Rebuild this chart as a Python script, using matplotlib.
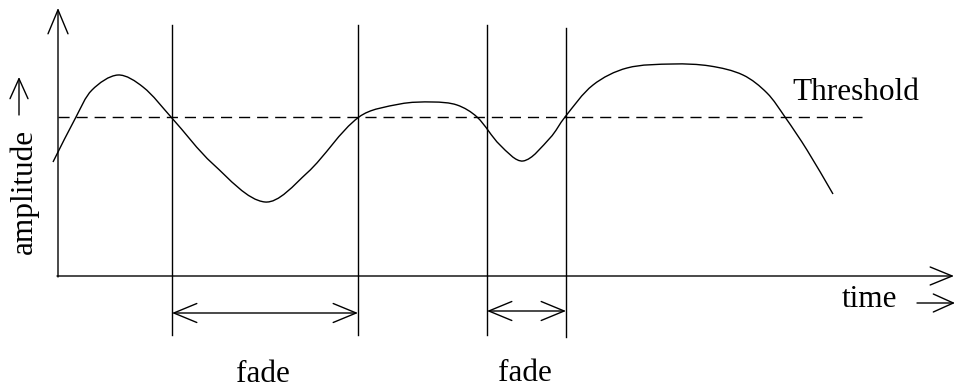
import numpy as np
import matplotlib
matplotlib.use("Agg")
import matplotlib.pyplot as plt
from matplotlib.path import Path
from matplotlib.patches import PathPatch, FancyArrowPatch

# ---- data (pixel units) ----
curve_x = [53, 76, 92, 118, 143, 171, 213, 265, 307, 359, 400, 433, 457, 477,
           500, 523, 550, 565, 593, 627, 673, 710, 743, 767, 785, 807, 833]
curve_y = [162, 117, 90, 75, 87, 117, 164, 202, 173, 117, 104, 102, 105, 117,
           145, 161, 138, 117, 85, 68, 64, 66, 75, 93, 117, 150, 194]
threshold_y = 117
threshold_span = [58, 862]
fade_bounds = [(172, 358), (487, 566)]
fade_arrow_y = [313, 311]
fade_line_tops = [25, 25, 25, 28]
fade_line_bottoms = [335, 335, 335, 337]
fade_label_x = [263, 525]
fade_label_y = [382, 381]

W, H = 956, 389
fig = plt.figure(figsize=(W / 100, H / 100), dpi=100)
ax = fig.add_axes([0, 0, 1, 1])
ax.set_xlim(0, W)
ax.set_ylim(H, 0)
ax.axis("off")

FONT = "Liberation Serif"
FS = 22.5
LW = 1.0
px = 0.72  # px -> pt

def arrow(p0, p1, style, hl, hw):
    a = FancyArrowPatch(p0, p1, arrowstyle=f"{style},head_length={hl*px},head_width={hw*px}",
                        mutation_scale=1, shrinkA=0, shrinkB=0, lw=LW, color="black")
    ax.add_patch(a)

# axes
arrow((58, 277), (58, 8), "->", 24, 10)
arrow((57, 276), (954, 276), "->", 22, 9)

# threshold
ax.plot(threshold_span, [threshold_y, threshold_y], color="black", lw=LW,
        dashes=(8, 5))

# vertical lines
xs = [b for pair in fade_bounds for b in pair]
for x, t, b in zip(xs, fade_line_tops, fade_line_bottoms):
    ax.plot([x, x], [t, b], color="black", lw=LW)

# fade arrows
for (a0, a1), y in zip(fade_bounds, fade_arrow_y):
    arrow((a0, y), (a1, y), "<->", 23, 9.5)

# smooth curve (chord-length Hermite spline -> cubic Bezier)
P = np.column_stack([curve_x, curve_y]).astype(float)
n = len(P)
d = np.sqrt(((P[1:] - P[:-1]) ** 2).sum(axis=1))
t = np.concatenate([[0], np.cumsum(d)])
M = np.zeros_like(P)
M[0] = (P[1] - P[0]) / (t[1] - t[0])
M[-1] = (P[-1] - P[-2]) / (t[-1] - t[-2])
for i in range(1, n - 1):
    M[i] = (P[i + 1] - P[i - 1]) / (t[i + 1] - t[i - 1])
verts = [P[0]]
codes = [Path.MOVETO]
for i in range(n - 1):
    h = t[i + 1] - t[i]
    verts += [P[i] + M[i] * h / 3, P[i + 1] - M[i + 1] * h / 3, P[i + 1]]
    codes += [Path.CURVE4] * 3
ax.add_patch(PathPatch(Path(verts, codes), fill=False, lw=LW, color="black"))

# texts
ax.text(792, 100, "Threshold", fontsize=FS, family=FONT, ha="left", va="baseline")
ax.text(842, 307, "time", fontsize=FS, family=FONT, ha="left", va="baseline")
arrow((917, 303), (955, 303), "->", 20, 9)
for x, y in zip(fade_label_x, fade_label_y):
    ax.text(x, y, "fade", fontsize=FS, family=FONT, ha="center", va="baseline")
ax.text(24, 191, "amplitude", fontsize=FS, family=FONT, rotation=90,
        ha="center", va="center")
arrow((19, 115), (19, 77), "->", 20, 9)

fig.savefig("out.png", dpi=100)
